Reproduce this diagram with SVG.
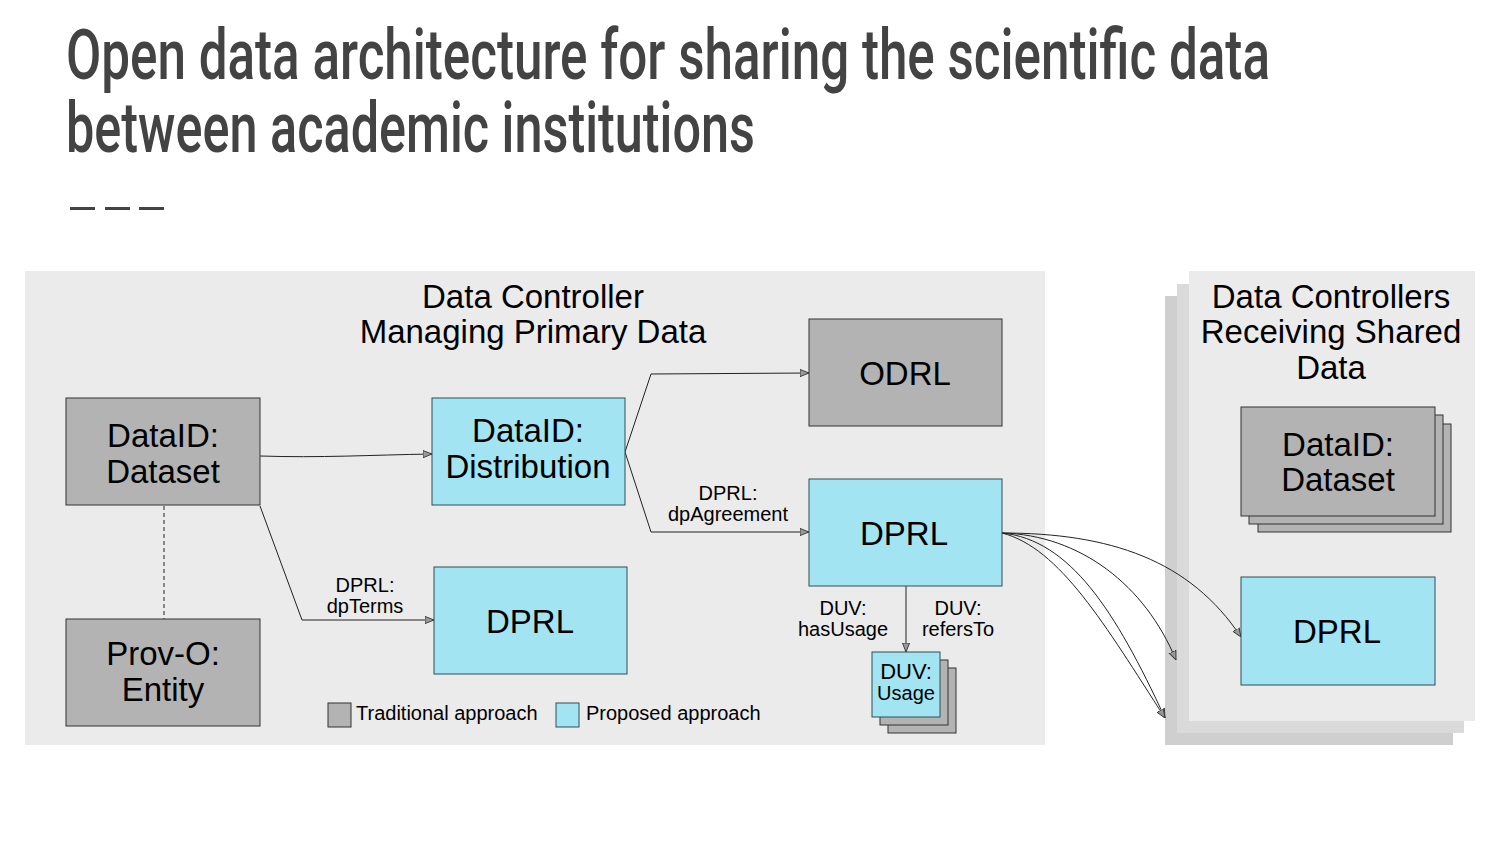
<svg xmlns="http://www.w3.org/2000/svg" width="1500" height="844" viewBox="0 0 1500 844">
<defs>
<style>
.t{font-family:"Liberation Sans",Arial,sans-serif;fill:#000;text-anchor:middle}
.big{font-size:33px}
.lbl{font-size:20px}
.title{font-family:Roboto,"Liberation Sans",Arial,sans-serif;fill:#434343;font-size:70px;font-weight:500}
.grey{fill:#b3b3b3;stroke:#333;stroke-width:1}
.cyan{fill:#a3e4f2;stroke:#2f4f55;stroke-width:1}
.conn{fill:none;stroke:#222;stroke-width:1}
</style>
<marker id="arr" viewBox="0 0 10 10" refX="10" refY="5" markerWidth="9" markerHeight="9" markerUnits="userSpaceOnUse" orient="auto">
<path d="M0,1 L10,5 L0,9 Z" fill="#999" stroke="#333" stroke-width="1"/>
</marker>
</defs>
<rect width="1500" height="844" fill="#fff"/>
<g id="title">
<text class="title" x="66" y="79" textLength="1204" lengthAdjust="spacingAndGlyphs">Open data architecture for sharing the scientific data</text>
<text class="title" x="66" y="152" textLength="689" lengthAdjust="spacingAndGlyphs">between academic institutions</text>
<rect x="70" y="207" width="25" height="3" fill="#434343"/>
<rect x="105" y="207" width="25" height="3" fill="#434343"/>
<rect x="139" y="207" width="25" height="3" fill="#434343"/>
</g>
<g id="panel-primary">
<rect x="25" y="271" width="1020" height="474" fill="#ebebeb"/>
<text class="t big" x="533" y="308">Data Controller</text>
<text class="t big" x="533" y="343">Managing Primary Data</text>
</g>
<g id="panel-receiving">
<rect x="1165" y="296" width="288" height="449" fill="#cfcfcf"/>
<rect x="1177" y="284" width="287" height="449" fill="#dadada"/>
<rect x="1189" y="271" width="286" height="450" fill="#ebebeb"/>
<text class="t big" x="1331" y="308">Data Controllers</text>
<text class="t big" x="1331" y="343">Receiving Shared</text>
<text class="t big" x="1331" y="379">Data</text>
</g>
<g id="connectors">
<path class="conn" d="M164,506 L164,619" stroke-dasharray="4,3"/>
<path class="conn" d="M260,456 C320,458 370,455 432,454" marker-end="url(#arr)"/>
<path class="conn" d="M260,506 L302,620 L434,620" marker-end="url(#arr)"/>
<path class="conn" d="M625,452 L651,374 L809,373" marker-end="url(#arr)"/>
<path class="conn" d="M625,452 L651,532 L809,532" marker-end="url(#arr)"/>
<path class="conn" d="M906,586 L906,652" marker-end="url(#arr)"/>
<path class="conn" d="M1002,533 C1110,533 1190,560 1241,637" marker-end="url(#arr)"/>
<path class="conn" d="M1002,533 C1080,535 1145,585 1176,660" marker-end="url(#arr)"/>
<path class="conn" d="M1002,533 C1070,540 1115,610 1165,718" marker-end="url(#arr)"/>
<path class="conn" d="M1002,533 C1060,548 1105,625 1165,718" marker-end="url(#arr)"/>
<text class="t lbl" x="365" y="592">DPRL:</text>
<text class="t lbl" x="365" y="613">dpTerms</text>
<text class="t lbl" x="728" y="500">DPRL:</text>
<text class="t lbl" x="728" y="521">dpAgreement</text>
<text class="t lbl" x="843" y="615">DUV:</text>
<text class="t lbl" x="843" y="636">hasUsage</text>
<text class="t lbl" x="958" y="615">DUV:</text>
<text class="t lbl" x="958" y="636">refersTo</text>
</g>
<g id="dataid-dataset">
<rect class="grey" x="66" y="398" width="194" height="107"/>
<text class="t big" x="163" y="447">DataID:</text>
<text class="t big" x="163" y="483">Dataset</text>
</g>
<g id="prov-entity">
<rect class="grey" x="66" y="619" width="194" height="107"/>
<text class="t big" x="163" y="665">Prov-O:</text>
<text class="t big" x="163" y="701">Entity</text>
</g>
<g id="dataid-distribution">
<rect class="cyan" x="432" y="398" width="193" height="107"/>
<text class="t big" x="528" y="442">DataID:</text>
<text class="t big" x="528" y="478">Distribution</text>
</g>
<g id="odrl">
<rect class="grey" x="809" y="319" width="193" height="107"/>
<text class="t big" x="905" y="385">ODRL</text>
</g>
<g id="dprl-main">
<rect class="cyan" x="809" y="479" width="193" height="107"/>
<text class="t big" x="904" y="545">DPRL</text>
</g>
<g id="dprl-terms">
<rect class="cyan" x="434" y="567" width="193" height="107"/>
<text class="t big" x="530" y="633">DPRL</text>
</g>
<g id="duv-usage">
<rect class="grey" x="888" y="668" width="68" height="65"/>
<rect class="grey" x="880" y="660" width="68" height="65"/>
<rect class="cyan" x="872" y="652" width="68" height="65"/>
<text class="t" style="font-size:22px" x="906" y="679">DUV:</text>
<text class="t lbl" x="906" y="700">Usage</text>
</g>
<g id="legend">
<rect class="grey" x="328" y="703" width="23" height="24"/>
<text class="lbl" style="font-family:'Liberation Sans',Arial,sans-serif" x="356" y="720">Traditional approach</text>
<rect class="cyan" x="556" y="703" width="23" height="24"/>
<text class="lbl" style="font-family:'Liberation Sans',Arial,sans-serif" x="586" y="720">Proposed approach</text>
</g>
<g id="recv-dataset">
<rect class="grey" x="1258" y="424" width="193" height="108"/>
<rect class="grey" x="1249" y="415" width="194" height="109"/>
<rect class="grey" x="1241" y="407" width="194" height="109"/>
<text class="t big" x="1338" y="456">DataID:</text>
<text class="t big" x="1338" y="491">Dataset</text>
</g>
<g id="recv-dprl">
<rect class="cyan" x="1241" y="577" width="194" height="108"/>
<text class="t big" x="1337" y="643">DPRL</text>
</g>
</svg>
